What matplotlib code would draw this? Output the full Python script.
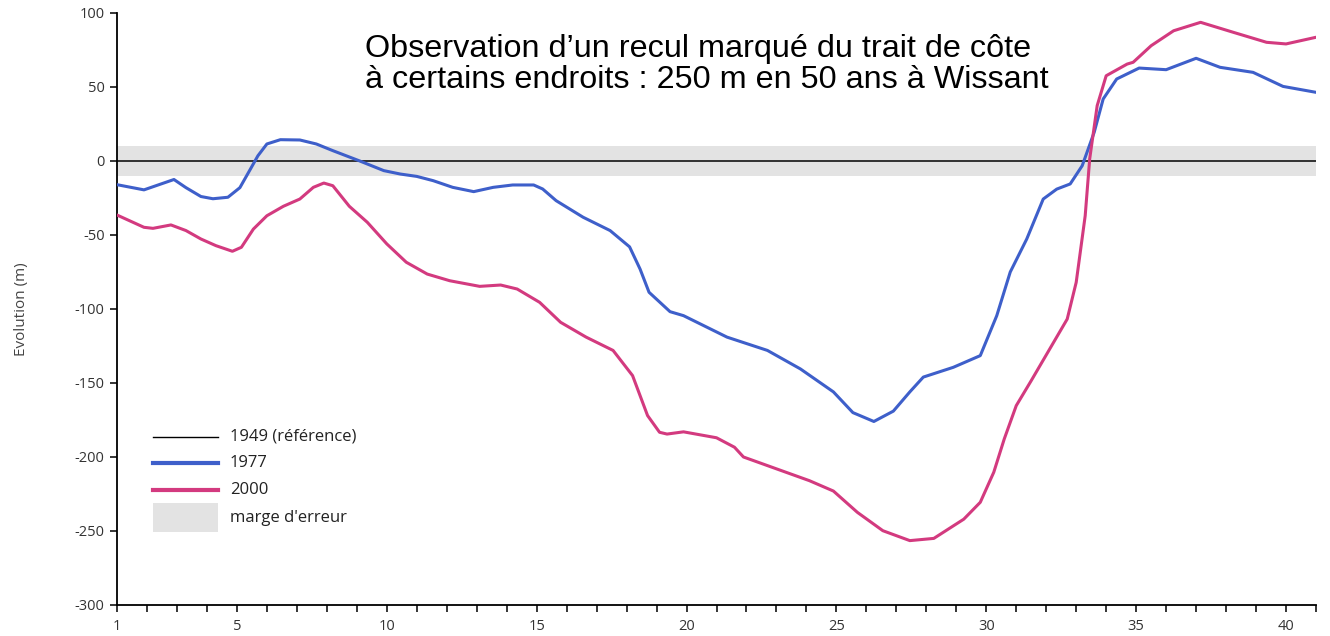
import matplotlib
matplotlib.use("Agg")
import matplotlib.pyplot as plt
from matplotlib.ticker import FixedLocator

plt.rcParams['axes.unicode_minus'] = False
plt.rcParams['font.family'] = ['Open Sans', 'DejaVu Sans']

# ---- data ----
x_1977 = [1, 1.9, 2.9, 3.3, 3.8, 4.2, 4.7, 5.1, 5.45, 5.7, 6.0, 6.45, 7.1, 7.65, 8.2,
          9.1, 9.9, 10.45, 11.0, 11.55, 12.2, 12.9, 13.55, 14.2, 14.9, 15.2, 15.65,
          16.55, 17.45, 18.1, 18.45, 18.75, 19.45, 19.9, 21.35, 22.7, 23.8, 24.9,
          25.55, 26.25, 26.9, 27.45, 27.9, 28.9, 29.8, 30.35, 30.8, 31.35, 31.9,
          32.35, 32.8, 33.2, 33.6, 33.9, 34.35, 35.1, 36.0, 37.0, 37.8, 38.9, 39.9, 41.0]
y_1977 = [-16, -19.5, -12.5, -18, -24, -25.5, -24.5, -18, -5.5, 3.5, 11.5, 14.4, 14.2,
          11.5, 7, 0, -6.5, -8.8, -10.4, -13.3, -17.8, -20.7, -17.8, -16.2, -16.2,
          -18.9, -26.8, -38, -47, -58, -73, -88.7, -101.8, -104.5, -119, -128, -140.5,
          -156, -170, -176, -169, -156, -146, -139.4, -131.5, -104.5, -75, -52.7,
          -25.7, -19, -15.5, -3.2, 19.4, 41.9, 55.4, 62.8, 61.7, 69.4, 63.3, 59.9,
          50.4, 46.4]

x_2000 = [1, 1.9, 2.2, 2.8, 3.3, 3.8, 4.3, 4.85, 5.15, 5.55, 6.0, 6.55, 7.1, 7.55, 7.9,
          8.2, 8.75, 9.35, 10.0, 10.65, 11.35, 12.1, 13.1, 13.8, 14.35, 15.1, 15.8,
          16.65, 17.55, 18.2, 18.7, 19.1, 19.35, 19.9, 21.0, 21.6, 21.9, 23.0, 24.1,
          24.9, 25.7, 26.55, 27.45, 28.25, 29.25, 29.8, 30.25, 30.6, 31.0, 31.5, 32.7,
          33.0, 33.3, 33.45, 33.7, 34.0, 34.7, 34.9, 35.5, 36.25, 37.15, 38.25, 39.35,
          40.0, 41.0]
y_2000 = [-36.5, -44.8, -45.5, -43.2, -47, -52.7, -57.2, -61, -58.3, -46, -37, -30.6,
          -25.7, -17.8, -14.9, -16.7, -30.6, -41.4, -56, -68.4, -76.4, -80.9, -84.7,
          -83.8, -86.5, -95.5, -109, -119, -128, -145, -172, -183.3, -184.5, -183,
          -187, -193.4, -200, -208, -216, -223, -237.4, -249.8, -256.5, -255, -242,
          -230.6, -210.3, -187.8, -165.3, -148.4, -106.8, -82, -37, 1.4, 37.4, 57.6,
          65.5, 66.7, 77.9, 88, 93.7, 86.9, 80.2, 79.1, 83.6]

x_range = [1, 41]
reference_1949 = 0
error_margin = 10

x_major = [1, 5, 10, 15, 20, 25, 30, 35, 40]
x_minor = list(range(1, 42))
y_ticks = [-300, -250, -200, -150, -100, -50, 0, 50, 100]

labels = ["1949 (référence)", "1977", "2000", "marge d'erreur"]
annotation = ("Observation d\u2019un recul marqué du trait de côte\n"
              "à certains endroits : 250 m en 50 ans à Wissant")

blue = "#3e5fca"
pink = "#d33a7f"
band = "#e3e3e3"

# ---- figure ----
fig = plt.figure(figsize=(13.3, 6.36), dpi=100)
ax = fig.add_axes([117/1330, 1 - 605/636, (1316-117)/1330, (605-13)/636])

ax.fill_between(x_range, -error_margin, error_margin, color=band, lw=0, zorder=1)
ax.hlines(reference_1949, x_range[0], x_range[1], color="black", lw=1.1, zorder=2)
ax.plot(x_1977, y_1977, color=blue, lw=2.2, zorder=3,
        solid_capstyle='round', solid_joinstyle='round')
ax.plot(x_2000, y_2000, color=pink, lw=2.2, zorder=3,
        solid_capstyle='round', solid_joinstyle='round')

ax.set_xlim(1, 41)
ax.set_ylim(-300, 100)
for s in ["top", "right"]:
    ax.spines[s].set_visible(False)
for s in ["left", "bottom"]:
    ax.spines[s].set_linewidth(1.3)
    ax.spines[s].set_color("black")

ax.xaxis.set_major_locator(FixedLocator(x_major))
ax.xaxis.set_minor_locator(FixedLocator(x_minor))
ax.set_yticks(y_ticks)
ax.set_yticklabels([str(v) for v in y_ticks])
ax.tick_params(axis='both', which='both', direction='out', length=5, width=1.1,
               color='black', labelsize=10.5, labelcolor='#333333')
ax.tick_params(axis='x', which='major', pad=5)
ax.tick_params(axis='y', which='major', pad=4)

ax.set_ylabel("Evolution (m)", fontsize=11, color='#444444')
ax.yaxis.set_label_coords(-0.073, 0.5)

# legend (drawn manually, positions in axes fraction)
tA = ax.transAxes
rows = [0.284, 0.240, 0.194]
styles = [("black", 1.0), (blue, 3.0), (pink, 3.0)]
for yy, (c, w), lab in zip(rows, styles, labels[:3]):
    ax.plot([0.030, 0.084], [yy, yy], color=c, lw=w, transform=tA, clip_on=False)
    ax.text(0.094, yy, lab, transform=tA, va='center', ha='left', fontsize=12, color='#222222')
ax.add_patch(plt.Rectangle((0.030, 0.123), 0.054, 0.049, transform=tA, color=band, lw=0))
ax.text(0.094, 0.147, labels[3], transform=tA, va='center', ha='left', fontsize=12, color='#222222')

fig.text(365/1330, 1 - 88/636, annotation, fontsize=23.3, family=['Liberation Sans'],
         ha='left', va='baseline', linespacing=1.05, color='black')

fig.savefig("out.png", dpi=100)
